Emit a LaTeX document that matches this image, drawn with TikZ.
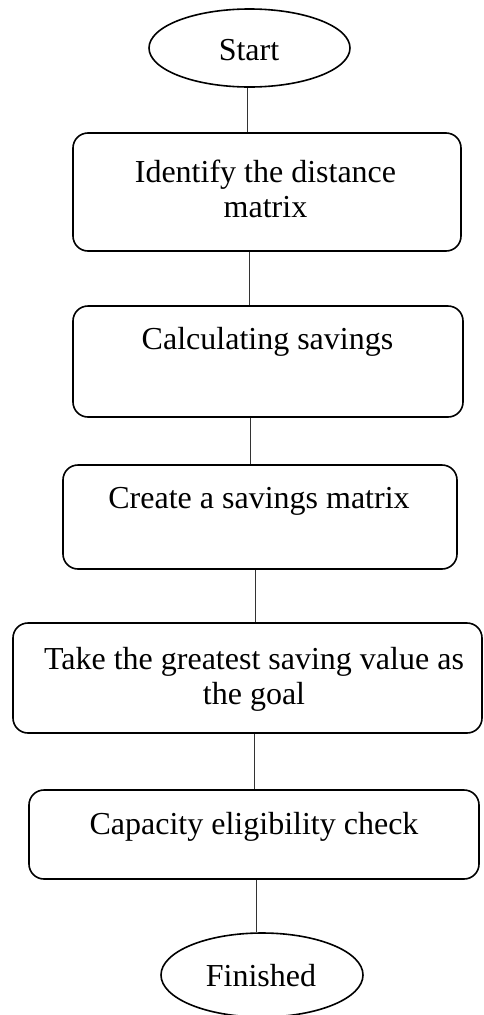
\documentclass[tikz,border=0pt]{standalone}
\usepackage{fontspec}
\setmainfont{Liberation Serif}
\usepackage{tikz}
\usetikzlibrary{shapes.geometric}

\begin{document}
\begin{tikzpicture}[x=1pt,y=1pt,yscale=-1,xscale=1,
  stepbox/.style={draw, line width=1.6pt, rounded corners=15pt, inner sep=0pt},
  termbox/.style={draw, ellipse, line width=1.6pt, inner sep=0pt},
  steptext/.style={inner sep=0pt, align=center, font=\fontsize{32}{35}\selectfont},
  link/.style={draw=black!80, line width=0.9pt}]
\useasboundingbox (0,0) rectangle (483,1015);
% terminals
\node [termbox, minimum width=201pt, minimum height=78pt] (start) at (249.5,48) {};
\node [steptext] (starttxt) at (249,50) {Start};
\node [termbox, minimum width=202pt, minimum height=84pt] (finish) at (262,975) {};
\node [steptext] (finishtxt) at (261,976) {Finished};
% steps
\node [stepbox, minimum width=388pt, minimum height=118pt] (box1) at (267,192) {};
\node [steptext] (txt1) at (265.5,189) {Identify the distance\\ matrix};
\node [stepbox, minimum width=390pt, minimum height=111pt] (box2) at (268,361.5) {};
\node [steptext] (txt2) at (267.5,342) {Calculating savings};
\node [stepbox, minimum width=394pt, minimum height=104pt] (box3) at (260,517) {};
\node [steptext] (txt3) at (259,501) {Create a savings matrix};
\node [stepbox, minimum width=469pt, minimum height=110pt] (box4) at (247.5,678) {};
\node [steptext] (txt4) at (254,679) {Take the greatest saving value as\\ the goal};
\node [stepbox, minimum width=450pt, minimum height=89pt] (box5) at (254,834.5) {};
\node [steptext] (txt5) at (254,827) {Capacity eligibility check};
% connectors
\draw [link] (247,0 |- start.south) -- (247,0 |- box1.north);
\draw [link] (249,0 |- box1.south) -- (249,0 |- box2.north);
\draw [link] (250,0 |- box2.south) -- (250,0 |- box3.north);
\draw [link] (255,0 |- box3.south) -- (255,0 |- box4.north);
\draw [link] (254,0 |- box4.south) -- (254,0 |- box5.north);
\draw [link] (256,0 |- box5.south) -- (256,0 |- finish.north);
\end{tikzpicture}
\end{document}
